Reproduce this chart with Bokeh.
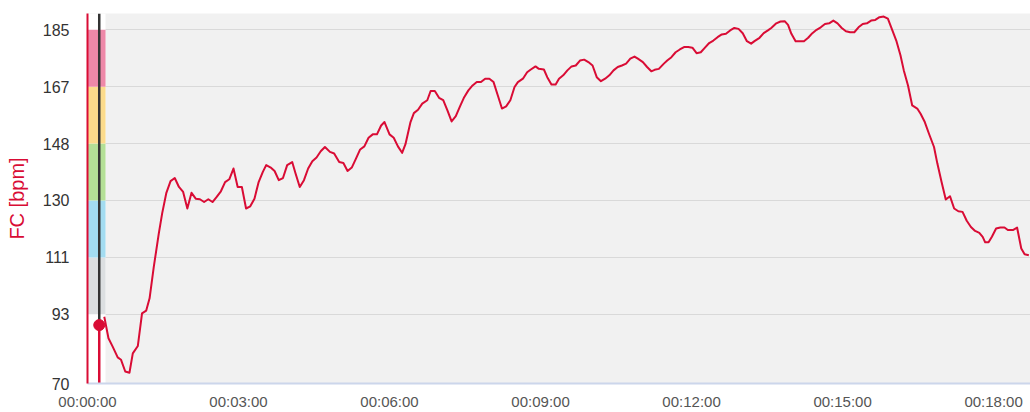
from bokeh.plotting import figure
from bokeh.models import FixedTicker, Range1d
from bokeh.embed import file_html
from bokeh.resources import INLINE

# ---- data ----
time_s = [20, 25, 30, 36, 40, 45, 50, 54, 60, 65, 70, 74, 79, 85, 89, 94, 99, 104, 109, 114,
          119, 124, 129, 134, 139, 144, 149, 154, 159, 164, 169, 174, 179, 184, 189, 194, 199,
          204, 209, 213, 219, 223, 228, 233, 238, 244, 248, 253, 258, 263, 268, 273, 278, 283,
          289, 294, 300, 305, 310, 315, 320, 325, 330, 335, 340, 345, 350, 354, 360, 365, 370,
          375, 379, 385, 389, 394, 399, 405, 409, 414, 419, 424, 429, 434, 439, 444, 449, 454,
          459, 464, 469, 474, 479, 484, 489, 494, 499, 504, 509, 513, 519, 524, 528, 534, 538,
          544, 548, 553, 558, 562, 567, 572, 577, 582, 587, 592, 597, 602, 607, 612, 617, 622,
          627, 632, 637, 642, 647, 652, 656, 662, 667, 672, 676, 681, 687, 691, 696, 701, 706,
          711, 716, 721, 726, 731, 736, 741, 746, 751, 756, 761, 766, 771, 776, 781, 786, 791,
          795, 801, 806, 811, 815, 821, 826, 831, 835, 839, 844, 849, 854, 859, 864, 869, 874,
          879, 884, 889, 894, 899, 904, 909, 914, 919, 924, 929, 934, 939, 944, 949, 954, 958,
          964, 969, 973, 978, 983, 989, 993, 998, 1003, 1009, 1013, 1018, 1023, 1028, 1033,
          1038, 1043, 1048, 1053, 1058, 1063, 1067, 1070, 1074, 1078, 1083, 1088, 1093, 1097,
          1103, 1108, 1113, 1117, 1122]
hr_bpm = [91.7, 84.7, 82.0, 78.5, 77.7, 73.9, 73.5, 79.8, 82.2, 92.8, 93.7, 97.7, 107.9, 118.8,
          125.3, 132.0, 135.8, 136.8, 133.9, 132.3, 126.9, 132.0, 130.1, 129.9, 129.0, 129.9,
          129.0, 130.7, 132.5, 135.5, 136.4, 139.9, 133.9, 133.9, 126.9, 127.6, 130.1, 135.5,
          138.8, 141.0, 140.1, 139.1, 136.1, 136.8, 141.0, 142.0, 138.3, 133.9, 136.1, 139.9,
          142.3, 143.5, 145.5, 146.9, 145.3, 144.8, 142.0, 141.7, 139.1, 140.2, 143.1, 146.1,
          147.1, 149.9, 151.0, 151.0, 153.9, 155.0, 151.0, 149.9, 147.1, 145.0, 147.8, 155.0,
          157.9, 159.0, 161.0, 162.1, 165.1, 165.1, 162.9, 162.1, 158.8, 155.2, 156.9, 160.1,
          163.1, 165.3, 166.9, 168.0, 168.0, 169.1, 169.1, 168.0, 163.7, 159.4, 160.1, 162.1,
          166.4, 168.0, 169.1, 171.2, 172.0, 173.1, 172.3, 172.1, 169.6, 167.2, 167.2, 169.1,
          170.2, 171.8, 173.1, 173.4, 175.0, 175.3, 174.5, 173.4, 169.6, 168.3, 169.1, 170.2,
          171.8, 172.9, 173.4, 174.0, 175.6, 176.3, 175.6, 174.5, 172.9, 171.5, 172.0, 172.3,
          174.0, 175.0, 176.1, 177.7, 178.6, 179.4, 179.4, 179.2, 177.4, 177.7, 179.2, 180.7,
          181.5, 182.6, 183.5, 183.7, 184.8, 185.6, 185.3, 183.9, 181.3, 180.5, 181.3, 182.4,
          183.9, 184.8, 185.6, 187.1, 187.7, 187.8, 186.6, 183.7, 181.3, 181.3, 181.3, 182.4,
          183.9, 185.0, 185.8, 186.9, 187.1, 188.0, 187.1, 185.6, 184.5, 184.2, 184.2, 185.8,
          186.9, 187.1, 188.0, 188.2, 189.1, 189.3, 188.6, 185.8, 181.5, 176.7, 171.8, 166.9,
          160.4, 159.4, 157.7, 155.0, 151.2, 146.9, 141.5, 135.5, 129.8, 130.9, 126.9, 126.0,
          125.8, 122.9, 120.9, 119.6, 119.0, 117.7, 115.9, 115.9, 117.7, 120.4, 120.7, 120.7,
          119.9, 119.9, 120.7, 113.9, 112.0, 111.7]

zone_bounds = [92.5, 111, 129.5, 148, 166.5, 185]
zone_colors = ["#dcdfe1", "#a3dcf1", "#b4e096", "#fcdb8b", "#ee88a8"]
zone_bar_end = 21.5

y_ticks = [70, 92.5, 111, 129.5, 148, 166.5, 185]
y_tick_labels = ["70", "93", "111", "130", "148", "167", "185"]
x_ticks = [0, 180, 360, 540, 720, 900, 1080]
x_tick_labels = ["00:00:00", "00:03:00", "00:06:00", "00:09:00", "00:12:00", "00:15:00", "00:18:00"]

x_start, x_end = 0, 1124
y_start, y_end = 70, 190.3

cursor_time = 14
cursor_hr = 89

RED = "#d90c35"
FONT = "Liberation Sans"

p = figure(width=1030, height=412, output_backend="svg", toolbar_location=None,
           x_range=Range1d(x_start, x_end), y_range=Range1d(y_start, y_end),
           min_border_left=87, min_border_right=0, min_border_top=13, min_border_bottom=28,
           background_fill_color="#f1f1f1", border_fill_color="white",
           outline_line_color=None)

# white column behind the zone bar
p.quad(left=[x_start], right=[zone_bar_end], bottom=[y_start], top=[y_end],
       fill_color="white", line_color=None)
# zone bar
p.quad(left=[x_start] * len(zone_colors), right=[zone_bar_end] * len(zone_colors),
       bottom=zone_bounds[:-1], top=zone_bounds[1:], fill_color=zone_colors, line_color=None)

# heart rate line
p.line(time_s, hr_bpm, line_color=RED, line_width=2, line_join="round")

# cursor
p.segment(x0=[cursor_time], y0=[cursor_hr], x1=[cursor_time], y1=[y_end],
          line_color="#333333", line_width=2.5)
p.segment(x0=[cursor_time], y0=[y_start], x1=[cursor_time], y1=[cursor_hr],
          line_color=RED, line_width=2.5)
p.scatter([cursor_time], [cursor_hr], size=11, fill_color=RED, line_color=RED)

# grids
p.xgrid.visible = False
p.ygrid.grid_line_color = "#d9d9d9"
p.ygrid.grid_line_width = 1

# x axis
xa = p.xaxis[0]
xa.ticker = FixedTicker(ticks=x_ticks)
xa.major_label_overrides = dict(zip(x_ticks, x_tick_labels))
xa.axis_line_color = "#ccd6eb"
xa.axis_line_width = 2
xa.major_tick_out = 0
xa.major_tick_in = 0
xa.minor_tick_out = 0
xa.minor_tick_in = 0
xa.major_tick_line_color = None
xa.minor_tick_line_color = None
xa.major_label_text_font = FONT
xa.major_label_text_font_size = "15px"
xa.major_label_text_color = "#555555"
xa.major_label_standoff = 9

# y axis
ya = p.yaxis[0]
ya.ticker = FixedTicker(ticks=y_ticks)
ya.major_label_overrides = dict(zip(y_ticks, y_tick_labels))
ya.axis_line_color = RED
ya.axis_line_width = 2
ya.major_tick_out = 0
ya.major_tick_in = 0
ya.minor_tick_out = 0
ya.minor_tick_in = 0
ya.major_tick_line_color = None
ya.minor_tick_line_color = None
ya.major_label_text_font = FONT
ya.major_label_text_font_size = "16px"
ya.major_label_text_color = "#333333"
ya.major_label_standoff = 18
ya.axis_label = "FC [bpm]"
ya.axis_label_text_font = FONT
ya.axis_label_text_font_size = "20px"
ya.axis_label_text_font_style = "normal"
ya.axis_label_text_color = RED
ya.axis_label_standoff = 12

open("out.html", "w").write(file_html(p, INLINE))
